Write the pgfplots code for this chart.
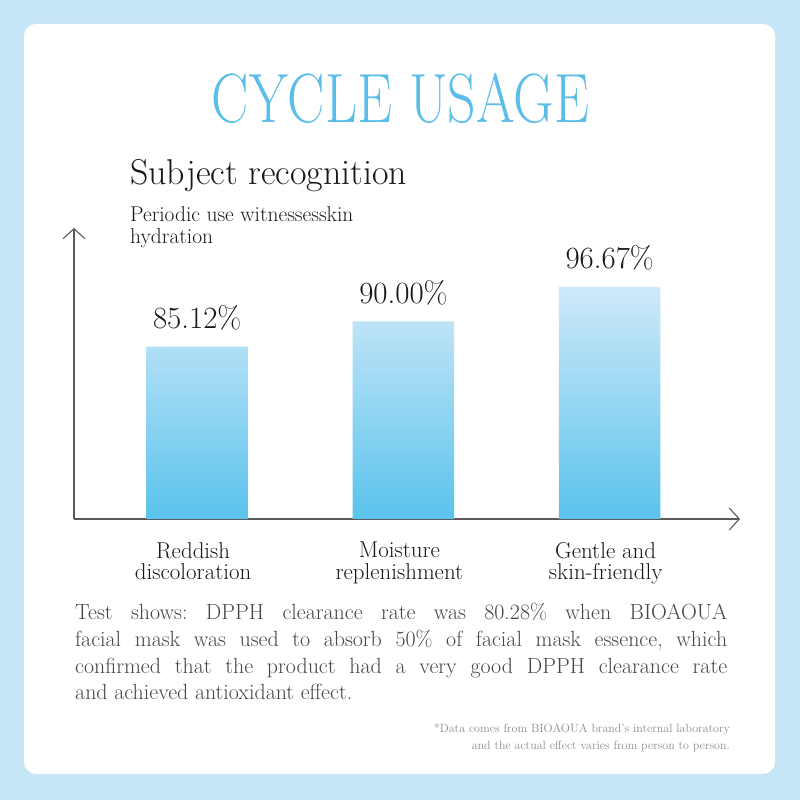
\documentclass[border=0pt]{standalone}
\usepackage{pgfplots}
\pgfplotsset{compat=1.18}
\usetikzlibrary{arrows.meta}
\definecolor{bgblue}{RGB}{198,230,248}
\definecolor{titleblue}{RGB}{91,190,232}
\definecolor{bartop}{RGB}{207,233,249}
\definecolor{barbot}{RGB}{90,195,236}
\definecolor{txt}{RGB}{25,25,25}
\definecolor{para}{RGB}{70,70,70}
\definecolor{note}{RGB}{140,140,140}
\definecolor{axisgray}{RGB}{90,90,90}
\frenchspacing
\begin{document}
\begin{tikzpicture}[x=1bp,y=1bp]
\useasboundingbox (0,0) rectangle (800,800);
\fill[bgblue] (0,0) rectangle (800,800);
\fill[white, rounded corners=12bp] (24,26) rectangle (775,776);
\node[anchor=base, text=titleblue, font=\fontsize{70}{70}\selectfont, xscale=0.80, inner sep=0pt] at (400.5,677) {CYCLE USAGE};
\node[anchor=base west, inner sep=0pt, text=txt, font=\fontsize{36}{38}\selectfont] at (130,615) {Subject recognition};
\node[anchor=base west, inner sep=0pt, text=txt, font=\fontsize{21.5}{24}\selectfont] at (130,578) {Periodic use witnessesskin};
\node[anchor=base west, inner sep=0pt, text=txt, font=\fontsize{21.5}{24}\selectfont] at (130,556) {hydration};

\begin{axis}[
  at={(74bp,281bp)}, anchor=south west,
  scale only axis, width=666bp, height=291bp,
  xmin=-0.597, xmax=2.632, ymin=0, ymax=56.29,
  axis lines=left,
  axis line style={draw=axisgray, line width=1.1bp, -{Straight Barb[length=10bp, width=22bp, line width=1.1bp]}},
  ytick=\empty,
  xtick={0,1,2},
  xticklabels={{Reddish\\discoloration},{Moisture\\replenishment},{Gentle and\\skin-friendly}},
  major tick length=0pt,
  xtick style={draw=none},
  xticklabel style={align=center, font=\fontsize{23}{21.5}\selectfont, text=txt, inner sep=0pt, anchor=north, yshift=-23bp, xshift=-4bp},
  y filter/.expression={y-51.79},
  /pgf/number format/assume math mode=true,
]
\addplot[ybar, bar width=101.5bp, draw=none, top color=bartop, bottom color=barbot,
  point meta=rawy,
  nodes near coords={\pgfmathprintnumber[fixed, fixed zerofill, precision=2]{\pgfplotspointmeta}\%},
  nodes near coords style={font=\fontsize{31}{32}\selectfont, text=txt, anchor=base, inner sep=0pt, yshift=18bp},
] coordinates {(0,85.12) (1,90.00) (2,96.67)};
\end{axis}

\begin{scope}[every node/.style={anchor=base west, inner sep=0pt, text=para, font=\fontsize{22}{26}\selectfont}]
\node at (75,180) {\makebox[652bp][s]{Test shows: DPPH clearance rate was 80.28\% when BIOAOUA}};
\node at (75,153) {\makebox[652bp][s]{facial mask was used to absorb 50\% of facial mask essence, which}};
\node at (75,126) {\makebox[652bp][s]{confirmed that the product had a very good DPPH clearance rate}};
\node at (75,100) {and achieved antioxidant effect.};
\end{scope}
\node[anchor=base east, inner sep=0pt, text=note, font=\fontsize{12}{15}\selectfont] at (730,67) {*Data comes from BIOAOUA brand's internal laboratory};
\node[anchor=base east, inner sep=0pt, text=note, font=\fontsize{12}{15}\selectfont] at (730,50) {and the actual effect varies from person to person.};
\end{tikzpicture}
\end{document}
